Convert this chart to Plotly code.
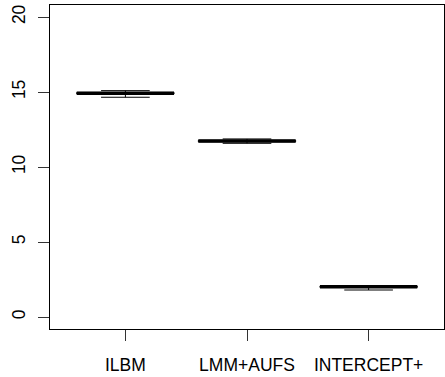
import plotly.graph_objects as go

categories = ["ILBM", "LMM+AUFS", "INTERCEPT+"]
positions = [1, 2, 3]
lower = [14.65, 11.58, 1.80]
q1 = [14.87, 11.68, 1.97]
median = [14.92, 11.73, 2.02]
q3 = [14.97, 11.78, 2.06]
upper = [15.09, 11.87, 2.10]
y_ticks = [0, 5, 10, 15, 20]

BOX_W = 0.8

fig = go.Figure()
fig.add_trace(go.Box(
    x=positions, q1=q1, median=median, q3=q3,
    lowerfence=lower, upperfence=upper,
    width=BOX_W, whiskerwidth=0.5, boxpoints=False,
    line=dict(color="black", width=1), fillcolor="white",
    showlegend=False, hoverinfo="skip",
))

mx, my = [], []
for p, m in zip(positions, median):
    mx += [p - BOX_W / 2, p + BOX_W / 2, None]
    my += [m, m, None]
fig.add_trace(go.Scatter(x=mx, y=my, mode="lines",
                         line=dict(color="black", width=3.5),
                         showlegend=False, hoverinfo="skip"))

font = dict(family="Liberation Sans, Arial, sans-serif", size=17.5, color="black")
fig.update_layout(
    width=445, height=377,
    margin=dict(l=50, r=1, t=5, b=48),
    paper_bgcolor="white", plot_bgcolor="white",
    font=font, showlegend=False,
    xaxis=dict(range=[0.38, 3.62], tickvals=positions, ticktext=categories,
               showgrid=False, zeroline=False, showline=True, mirror=True,
               linecolor="black", linewidth=1, ticks="outside", ticklen=11,
               tickcolor="#333", ticklabelstandoff=9, tickfont=font),
    yaxis=dict(range=[-0.8, 20.8], tickvals=y_ticks,
               showgrid=False, zeroline=False, showline=True, mirror=True,
               linecolor="black", linewidth=1, ticks="outside", ticklen=11,
               tickcolor="#333", tickangle=-90, ticklabelstandoff=6, tickfont=font),
)

fig.write_html("out.html", config={"displayModeBar": False},
               post_script="document.body.style.margin='0';document.body.style.overflow='hidden';")
